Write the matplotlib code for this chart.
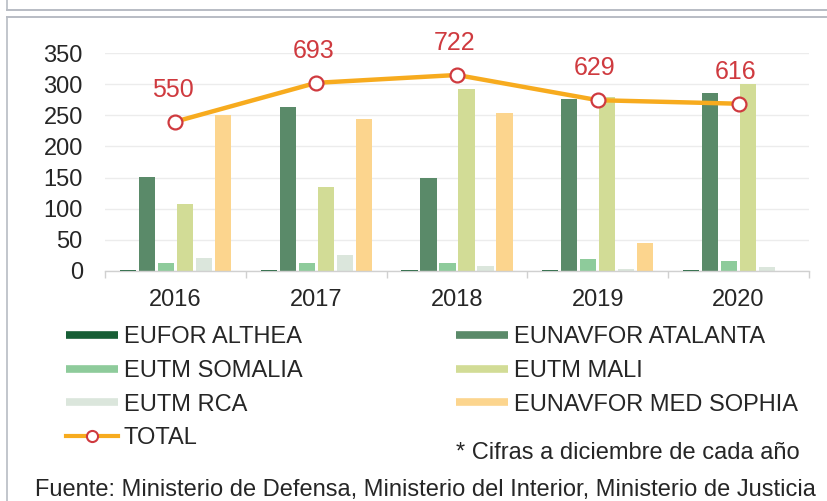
import matplotlib
matplotlib.use("Agg")
import matplotlib.pyplot as plt
from matplotlib.lines import Line2D
import numpy as np

plt.rcParams['font.family'] = ['Liberation Sans', 'DejaVu Sans']

years = ["2016", "2017", "2018", "2019", "2020"]
series_names = ["EUFOR ALTHEA", "EUNAVFOR ATALANTA", "EUTM SOMALIA",
                "EUTM MALI", "EUTM RCA", "EUNAVFOR MED SOPHIA"]
althea = [1, 1, 1, 1, 1]
atalanta = [151, 264, 149, 276, 286]
somalia = [13, 13, 13, 19, 16]
mali = [107, 135, 292, 280, 300]
rca = [20, 25, 7, 3, 6]
sophia = [251, 245, 254, 44, 0]
total = [550, 693, 722, 629, 616]
footnote = "* Cifras a diciembre de cada año"
source = "Fuente: Ministerio de Defensa, Ministerio del Interior, Ministerio de Justicia"
top_source = "Fuente: Ministerio del Interior"

colors = ["#175e35", "#5a8a69", "#8ecb9b", "#d2dc96", "#dbe6dc", "#fcd58e"]
line_color = "#f7ab1e"
red = "#cf3a3f"
text_color = "#262626"
FS = 17

W, H = 827, 501
fig = plt.figure(figsize=(W / 100, H / 100), dpi=100)

def fx(px):
    return px / W

def fy(py):
    return 1 - py / H

ax = fig.add_axes([fx(105), fy(270.7), fx(809) - fx(105), fy(53.3) - fy(270.7)])
x = np.arange(len(years))
data = [althea, atalanta, somalia, mali, rca, sophia]
step = 0.135
bw = 0.115
for i, (vals, c) in enumerate(zip(data, colors)):
    ax.bar(x + (i - 2.5) * step, vals, width=bw, color=c, zorder=2)

ax.set_xlim(-0.5, len(years) - 0.5)
ax.set_ylim(0, 350)
ax.set_yticks(np.arange(0, 351, 50))
ax.yaxis.grid(True, color="#ececec", linewidth=1.0, zorder=0)
ax.set_axisbelow(True)
for s in ["top", "right", "left"]:
    ax.spines[s].set_visible(False)
ax.spines["bottom"].set_color("#d0d0d0")
ax.spines["bottom"].set_linewidth(1.0)
ax.tick_params(axis="y", length=0, labelsize=FS, colors=text_color, pad=16)
ax.set_xticks(x)
ax.set_xticklabels(years)
ax.tick_params(axis="x", which="major", length=0, labelsize=FS, colors=text_color, pad=13)
ax.set_xticks(np.arange(-0.5, len(years), 1.0), minor=True)
ax.tick_params(axis="x", which="minor", length=5, color="#d0d0d0", width=1.0)

ax2 = ax.twinx()
ax2.set_ylim(0, 802)
ax2.axis("off")
ax2.plot(x, total, color=line_color, linewidth=3.2, marker="o", markersize=10,
         markerfacecolor="white", markeredgecolor=red, markeredgewidth=1.6, zorder=5)
for xi, t in zip(x, total):
    ax2.annotate(str(t), (xi, t), xytext=(-2, 23), textcoords="offset points",
                 ha="center", va="center", color=red, fontsize=18)

handles = [
    Line2D([], [], color=colors[0], lw=5.5, solid_capstyle="butt"),
    Line2D([], [], color=colors[2], lw=5.5, solid_capstyle="butt"),
    Line2D([], [], color=colors[4], lw=5.5, solid_capstyle="butt"),
    Line2D([], [], color=line_color, lw=3, marker="o", markersize=8,
           markerfacecolor="white", markeredgecolor=red, markeredgewidth=1.5),
    Line2D([], [], color=colors[1], lw=5.5, solid_capstyle="butt"),
    Line2D([], [], color=colors[3], lw=5.5, solid_capstyle="butt"),
    Line2D([], [], color=colors[5], lw=5.5, solid_capstyle="butt"),
]
labels = [series_names[0], series_names[2], series_names[4], "TOTAL",
          series_names[1], series_names[3], series_names[5]]
leg = fig.legend(handles, labels, ncol=2, loc="upper left",
                 bbox_to_anchor=(fx(66), fy(326)), frameon=False,
                 fontsize=FS, handlelength=2.2, handletextpad=0.25,
                 labelspacing=0.5, columnspacing=6.5, borderpad=0,
                 borderaxespad=0)
for t in leg.get_texts():
    t.set_color(text_color)

fig.text(fx(800), fy(453), footnote, ha="right", va="center", fontsize=FS, color=text_color)
fig.text(fx(425), fy(490), source, ha="center", va="center", fontsize=FS, color=text_color)
fig.text(fx(25), fy(-9), top_source, ha="left", va="center", fontsize=FS, color="#c4c4c4")

border = "#b8bcc4"
fig.add_artist(Line2D([fx(7), fx(7)], [fy(0), fy(10)], color=border, lw=1.2))
fig.add_artist(Line2D([fx(7), fx(827)], [fy(10), fy(10)], color=border, lw=1.4))
fig.add_artist(Line2D([fx(7), fx(827)], [fy(17), fy(17)], color=border, lw=1.4))
fig.add_artist(Line2D([fx(7), fx(7)], [fy(17), fy(501)], color=border, lw=1.2))

fig.savefig("out.png", dpi=100)
